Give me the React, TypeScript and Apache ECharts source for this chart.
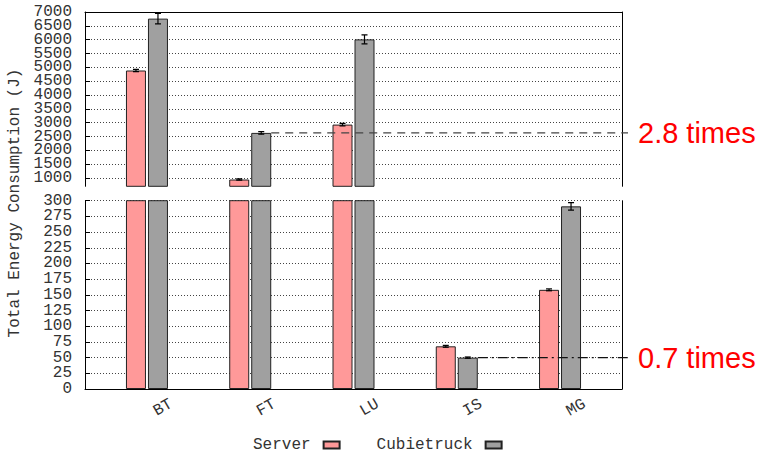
import React, { useEffect, useRef } from 'react';
import * as echarts from 'echarts';

// ---------- data ----------
const categories = ['BT', 'FT', 'LU', 'IS', 'MG'];
const serverValues = [4885, 945, 2930, 68, 158];
const serverErrors = [40, 20, 45, 1.5, 1.5];
const cubieValues = [6760, 2630, 6010, 50, 291];
const cubieErrors = [190, 45, 160, 1, 6];
const topTicks = [1000, 1500, 2000, 2500, 3000, 3500, 4000, 4500, 5000, 5500, 6000, 6500, 7000];
const bottomTicks = [0, 25, 50, 75, 100, 125, 150, 175, 200, 225, 250, 275, 300];
const topRange = [700, 7000];
const bottomRange = [0, 300];
const bottomStep = 25;
const ratioLabels = ['2.8 times', '0.7 times'];
const ratioCategoryIndex = [1, 3];
const yTitle = 'Total Energy Consumption (J)';

// ---------- style ----------
const MONO = 'Liberation Mono, DejaVu Sans Mono, monospace';
const SANS = 'Liberation Sans, Arial, sans-serif';
const TEXT = '#333';
const BAR_W = 20;
const HALF = 11;
const X_MIN = -0.6;
const X_MAX = 4.6;

export default function App() {
  const ref = useRef<HTMLDivElement>(null);
  useEffect(() => {
    const chart = echarts.init(ref.current!, null, { renderer: 'svg' });
    const axisLineStyle = { color: '#000', width: 1 };
    const gridLine = { show: true, lineStyle: { color: '#444', type: [1, 2], width: 1 } };
    const even = (a: number[]) => a.filter((_, i) => i % 2 === 0);
    const odd = (a: number[]) => a.filter((_, i) => i % 2 === 1);
    const yLabel = (values: number[]) => ({
      fontFamily: MONO, fontSize: 16, color: TEXT, margin: 13,
      showMinLabel: true, showMaxLabel: true,
      customValues: values,
      formatter: (v: number) => String(v),
    });
    const xBase = {
      type: 'value', min: X_MIN, max: X_MAX, interval: 0.2,
      splitLine: { show: false }, axisTick: { show: false },
      axisLine: { show: true, onZero: false, lineStyle: axisLineStyle },
    };
    const catFormatter = (v: number) => {
      const i = Math.round(v);
      return Math.abs(v - i) < 1e-6 && categories[i] ? categories[i] : '';
    };
    const barSeries = (name: string, vals: number[], color: string, xi: number, yi: number) => ({
      name, type: 'bar', xAxisIndex: xi, yAxisIndex: yi, barWidth: BAR_W, barGap: '10%',
      itemStyle: { color, borderColor: '#222', borderWidth: 1 },
      data: categories.map((_, i) => [i, vals[i]]),
      z: 2,
    });
    const errSeries = (vals: number[], errs: number[], side: number, xi: number, yi: number) => ({
      type: 'custom', xAxisIndex: xi, yAxisIndex: yi, clip: true, z: 5,
      data: categories.map((_, i) => [i, vals[i], errs[i]]),
      renderItem: (params: any, api: any) => {
        const x = api.value(0), v = api.value(1), e = api.value(2);
        const hi = api.coord([x, v + e]);
        const lo = api.coord([x, v - e]);
        const cx = hi[0] + side * HALF;
        const st = { stroke: '#000', lineWidth: 1.2 };
        return {
          type: 'group',
          children: [
            { type: 'line', shape: { x1: cx, y1: hi[1], x2: cx, y2: lo[1] }, style: st },
            { type: 'line', shape: { x1: cx - 3, y1: hi[1], x2: cx + 3, y2: hi[1] }, style: st },
            { type: 'line', shape: { x1: cx - 3, y1: lo[1], x2: cx + 3, y2: lo[1] }, style: st },
          ],
        };
      },
    });
    const extraLabelAxis = (gridIndex: number, range: number[], values: number[]) => ({
      type: 'value', gridIndex, position: 'left', min: range[0], max: range[1],
      axisLine: { show: false }, axisTick: { show: false }, splitLine: { show: false },
      axisLabel: yLabel(values),
    });
    const option: any = {
      animation: false,
      grid: [
        { left: 85, top: 12, width: 537, height: 174.3 },
        { left: 85, top: 200.7, width: 537, height: 188.3 },
      ],
      xAxis: [
        { ...xBase, gridIndex: 0, position: 'top', axisLabel: { show: false } },
        {
          ...xBase, gridIndex: 1, position: 'bottom',
          axisLabel: {
            formatter: catFormatter, rotate: 30, align: 'left', verticalAlign: 'middle',
            margin: 28, padding: [0, 0, 0, 9], fontFamily: MONO, fontSize: 16, color: TEXT,
          },
        },
      ],
      yAxis: [
        {
          type: 'value', gridIndex: 0, min: topRange[0], max: topRange[1],
          axisLine: { show: true, onZero: false, lineStyle: axisLineStyle },
          axisTick: { show: true, inside: true, length: 5, customValues: topTicks, lineStyle: axisLineStyle },
          axisLabel: yLabel(even(topTicks)),
          splitLine: gridLine,
        },
        {
          type: 'value', gridIndex: 0, position: 'right', min: topRange[0], max: topRange[1],
          axisLine: { show: true, onZero: false, lineStyle: axisLineStyle },
          axisTick: { show: false }, axisLabel: { show: false }, splitLine: { show: false },
        },
        {
          type: 'value', gridIndex: 1, min: bottomRange[0], max: bottomRange[1], interval: bottomStep,
          axisLine: { show: true, onZero: false, lineStyle: axisLineStyle },
          axisTick: { show: true, inside: true, length: 5, lineStyle: axisLineStyle },
          axisLabel: yLabel(even(bottomTicks)),
          splitLine: gridLine,
        },
        {
          type: 'value', gridIndex: 1, position: 'right', min: bottomRange[0], max: bottomRange[1],
          axisLine: { show: true, onZero: false, lineStyle: axisLineStyle },
          axisTick: { show: false }, axisLabel: { show: false }, splitLine: { show: false },
        },
        extraLabelAxis(0, topRange, odd(topTicks)),
        extraLabelAxis(1, bottomRange, odd(bottomTicks)),
      ],
      legend: {
        left: 253, top: 437, padding: 0, align: 'right', icon: 'rect', itemWidth: 16, itemHeight: 7, itemGap: 36,
        textStyle: { fontFamily: MONO, fontSize: 16, lineHeight: 14, color: TEXT, padding: [0, 8, 0, 0] },
        data: ['Server', 'Cubietruck'],
      },
      series: [
        barSeries('Server', serverValues, '#ff9999', 0, 0),
        barSeries('Cubietruck', cubieValues, '#a0a0a0', 0, 0),
        barSeries('Server', serverValues, '#ff9999', 1, 2),
        barSeries('Cubietruck', cubieValues, '#a0a0a0', 1, 2),
        errSeries(serverValues, serverErrors, -1, 0, 0),
        errSeries(cubieValues, cubieErrors, 1, 0, 0),
        errSeries(serverValues, serverErrors, -1, 1, 2),
        errSeries(cubieValues, cubieErrors, 1, 1, 2),
      ],
    };
    chart.setOption(option);

    const graphics: any[] = [];
    ratioLabels.forEach((label, k) => {
      const i = ratioCategoryIndex[k];
      const v = cubieValues[i];
      const inTop = v > bottomRange[1];
      const finder = inTop ? { xAxisIndex: 0, yAxisIndex: 0 } : { xAxisIndex: 1, yAxisIndex: 2 };
      const p = chart.convertToPixel(finder as any, [i, v]) as number[];
      const edge = chart.convertToPixel(finder as any, [X_MAX, v]) as number[];
      const x1 = p[0] + HALF + BAR_W / 2;
      const x2 = edge[0] + 6;
      graphics.push({
        type: 'line', z: 100,
        shape: { x1, y1: p[1], x2, y2: p[1] },
        style: { stroke: k === 0 ? '#444' : '#111', lineWidth: 1.3, lineDash: k === 0 ? [8, 6] : [10, 4, 2, 4] },
      });
      graphics.push({
        type: 'text', z: 100, x: x2 + 10, y: p[1],
        style: { text: label, fill: '#ff0000', fontFamily: SANS, fontSize: 29, align: 'left', verticalAlign: 'middle' },
      });
    });
    graphics.push({
      type: 'text', x: 15, y: 203, rotation: Math.PI / 2,
      style: { text: yTitle, fill: TEXT, fontFamily: MONO, fontSize: 16, align: 'center', verticalAlign: 'middle' },
    });
    chart.setOption({ graphic: graphics });

    return () => chart.dispose();
  }, []);
  return <div ref={ref} style={{ position: 'fixed', left: 0, top: 0, width: 758, height: 453, background: '#fff' }} />;
}
